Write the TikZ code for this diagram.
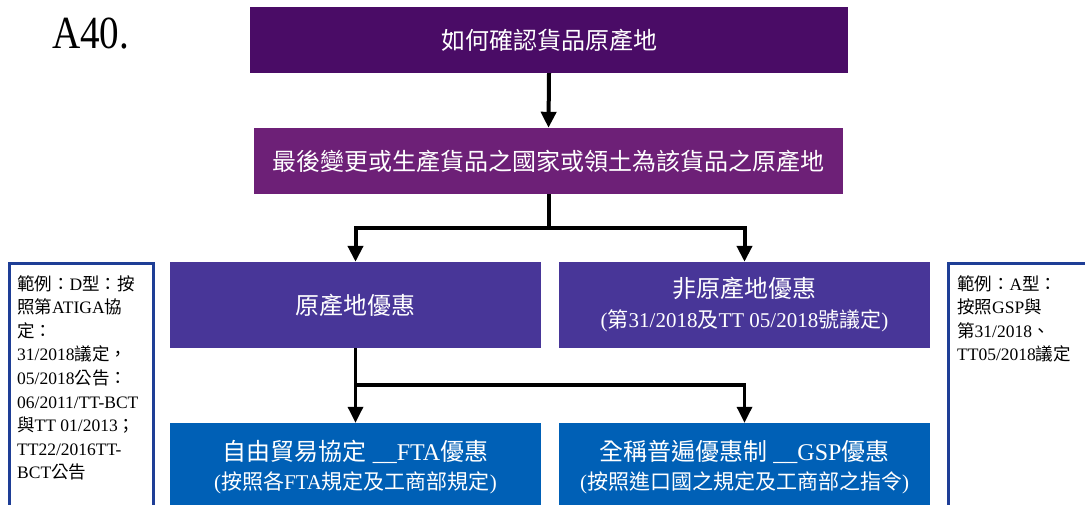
\documentclass[tikz,border=0pt]{standalone}
\usepackage{fontspec}
\setmainfont{Liberation Serif}
\newfontfamily\cjk{Noto Sans CJK TC}
\usetikzlibrary{arrows.meta}
\definecolor{cA}{RGB}{74,12,102}
\definecolor{cB}{RGB}{109,32,119}
\definecolor{cC}{RGB}{72,54,152}
\definecolor{cD}{RGB}{0,96,182}
\definecolor{cE}{RGB}{30,62,150}
\newcommand\zh[1]{{\cjk #1}}
\begin{document}
\begin{tikzpicture}[x=1pt,y=-1pt,
  box/.style={fill=#1, text=white, inner sep=0pt, align=center},
  conn/.style={line width=4pt, -{Triangle[width=15pt,length=16pt]}},
  connb/.style={line width=3.3pt, -{Triangle[width=15pt,length=16pt]}},
  side/.style={draw=cE, line width=2.7pt, fill=white},
  sidetext/.style={inner sep=0pt, anchor=north west, align=left, font=\fontsize{17.5}{23.6}\selectfont}
]
\useasboundingbox (0,0) rectangle (1085,505);
\clip (0,0) rectangle (1085,505);

\node[anchor=base west, inner sep=0pt, font=\fontsize{46}{46}\selectfont] (title) at (52,49) {\scalebox{0.85}[1]{A40.}};

\node[box=cA, minimum width=598pt, minimum height=66pt, font=\cjk\fontsize{24}{30}\selectfont] (b1) at (549,40) {如何確認貨品原產地};
\node[box=cB, minimum width=589pt, minimum height=66pt, font=\cjk\fontsize{24}{30}\selectfont] (b2) at (548.5,161) {最後變更或生產貨品之國家或領土為該貨品之原產地};
\node[box=cC, minimum width=371pt, minimum height=86pt, font=\cjk\fontsize{24}{30}\selectfont] (b3) at (355.5,305) {原產地優惠};
\node[box=cC, minimum width=371pt, minimum height=86pt, font=\fontsize{21}{30}\selectfont] (b4) at (744.5,305)
  {{\cjk\fontsize{24}{30}\selectfont 非原產地優惠}\\(\zh{第}31/2018\zh{及}TT 05/2018\zh{號議定})};
\node[box=cD, minimum width=371pt, minimum height=89pt, font=\fontsize{21}{29}\selectfont] (b5) at (355.5,467.5)
  {{\fontsize{24}{29}\selectfont\zh{自由貿易協定} \_\_FTA\zh{優惠}}\\(\zh{按照各}FTA\zh{規定及工商部規定})};
\node[box=cD, minimum width=371pt, minimum height=89pt, font=\fontsize{21}{29}\selectfont] (b6) at (744.5,467.5)
  {{\fontsize{24}{29}\selectfont\zh{全稱普遍優惠制} \_\_GSP\zh{優惠}}\\(\zh{按照進口國之規定及工商部之指令})};

\coordinate (j1) at (548.5,228);
\coordinate (j2) at (355.5,385);
\draw[conn] (b1.south) -- (b2.north);
\draw[line width=4pt] (b2.south) -- (j1);
\draw[conn] (j1) -| (b3.north);
\draw[conn] (j1) -| (b4.north);
\draw[connb] (b3.south) -- (b5.north);
\draw[connb] (j2) -| (b6.north);

\node[side, minimum width=144pt, minimum height=260pt, anchor=north west] (s1) at (8,262) {};
\node[side, minimum width=160pt, minimum height=260pt, anchor=north west] (s2) at (947,262) {};

\node[sidetext] (t1) at (17,275) {\zh{範例：}D\zh{型：按}\\\zh{照第}ATIGA\zh{協}\\\zh{定：}\\31/2018\zh{議定，}\\05/2018\zh{公告：}\\06/2011/TT-BCT\\\zh{與}TT 01/2013\zh{；}\\TT22/2016TT-\\BCT\zh{公告}};
\node[sidetext] (t2) at (957,275) {\zh{範例：}A\zh{型：}\\\zh{按照}GSP\zh{與}\\\zh{第}31/2018\zh{、}\\TT05/2018\zh{議定}};
\end{tikzpicture}
\end{document}
